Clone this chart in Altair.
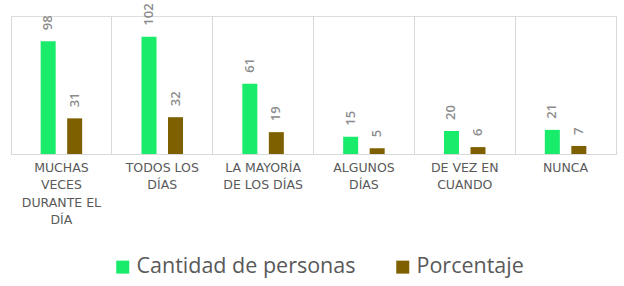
import json
import altair as alt
import pandas as pd

categorias = ["MUCHAS VECES DURANTE EL DÍA", "TODOS LOS DÍAS", "LA MAYORÍA DE LOS DÍAS",
              "ALGUNOS DÍAS", "DE VEZ EN CUANDO", "NUNCA"]
lineas = [["MUCHAS", "VECES", "DURANTE EL", "DÍA"], ["TODOS LOS", "DÍAS"],
          ["LA MAYORÍA", "DE LOS DÍAS"], ["ALGUNOS", "DÍAS"], ["DE VEZ EN", "CUANDO"], ["NUNCA"]]
series = ["Cantidad de personas", "Porcentaje"]
cantidad = [98, 102, 61, 15, 20, 21]
porcentaje = [31, 32, 19, 5, 6, 7]
colores = ["#19EC6A", "#7F6000"]

rows = []
for c, a, b in zip(categorias, cantidad, porcentaje):
    rows.append({"cat": c, "serie": series[0], "val": a})
    rows.append({"cat": c, "serie": series[1], "val": b})
df = pd.DataFrame(rows)

expr = json.dumps(lineas[-1])
for c, l in reversed(list(zip(categorias[:-1], lineas[:-1]))):
    expr = f"datum.value == {json.dumps(c)} ? {json.dumps(l)} : ({expr})"

x = alt.X("cat:N", sort=categorias,
          scale=alt.Scale(paddingInner=0, paddingOuter=0),
          axis=alt.Axis(title=None, labelAngle=0, ticks=False, grid=True, bandPosition=0,
                        gridColor="#d9d9d9", domainColor="#d9d9d9", labelExpr=expr,
                        labelFont="DejaVu Sans", labelFontSize=12.5, labelColor="#595959",
                        labelPadding=13, labelLineHeight=17.5, labelBaseline="middle"))
xo = alt.XOffset("serie:N", sort=series, scale=alt.Scale(paddingInner=0.195, paddingOuter=1))
y = alt.Y("val:Q", scale=alt.Scale(domain=[0, 120], nice=False),
          axis=alt.Axis(orient="right", labels=False, ticks=False, grid=False, domain=True,
                        domainColor="#d9d9d9", title=None))
color = alt.Color("serie:N", sort=series, scale=alt.Scale(domain=series, range=colores),
                  legend=alt.Legend(title=None, orient="none", direction="horizontal",
                                    legendX=101, legendY=240, padding=0, labelLimit=500,
                                    symbolType="square", symbolSize=169, symbolStrokeWidth=0,
                                    labelFont="Open Sans", labelFontSize=21.5, labelColor="#595959",
                                    labelOffset=3, columnPadding=36))

bars = alt.Chart(df).mark_bar(width=15).encode(x=x, xOffset=xo, y=y, color=color)
labels = alt.Chart(df).mark_text(angle=270, align="left", baseline="middle", dx=11,
                                 font="Open Sans", fontSize=13, fontWeight=600,
                                 color="#8c8c8c").encode(
    x=x, xOffset=xo, y=y, text="val:Q")

chart = alt.layer(bars, labels).properties(
    width=605, height=138,
    padding={"left": 11, "top": 16, "right": 8, "bottom": 132},
    autosize=alt.AutoSizeParams(type="none"),
).configure_view(stroke=None).configure(background="white")

chart.save("out.html", embed_options={"renderer": "svg", "actions": False})
